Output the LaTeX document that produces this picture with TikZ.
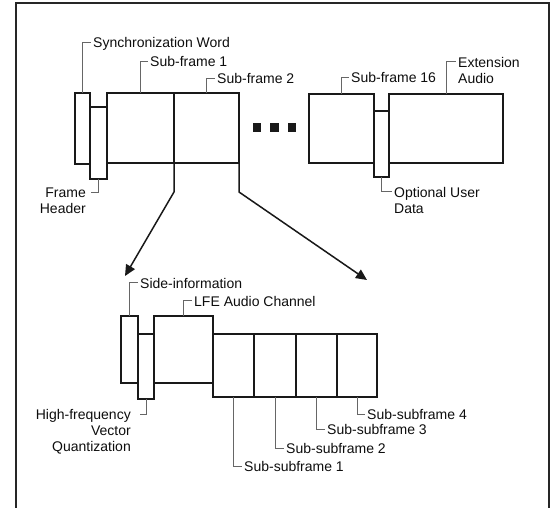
\documentclass[tikz,border=0pt]{standalone}
\usepackage{fontspec}
\setmainfont{Liberation Sans}
\usetikzlibrary{arrows.meta}
\begin{document}
\begin{tikzpicture}[x=1pt,y=-1pt,
  box/.style={draw=black!90, line width=1.6pt, inner sep=0pt, outer sep=0pt, anchor=north west, fill=white},
  lead/.style={draw=black!60, line width=1pt},
  lbl/.style={font=\fontsize{14}{16}\selectfont, text=black!95, inner xsep=2pt, inner ysep=0pt, text height=10pt, text depth=0pt, anchor=west},
  mlbl/.style={font=\fontsize{14}{16}\selectfont, text=black!95, inner xsep=2pt, inner ysep=0pt},
  arr/.style={draw=black!90, line width=1.5pt, -{Triangle[length=11pt,width=10pt]}},
  dot/.style={fill=black!90, minimum size=8.5pt, inner sep=0pt, outer sep=0pt}
]
\useasboundingbox (0,0) rectangle (555,508);
\draw[line width=2.5pt, black!85] (16,508) -- (16,3) -- (549,3) -- (549,508);

% top frame
\node[box, minimum width=15pt, minimum height=71pt] (sync) at (75,93) {};
\node[box, minimum width=17pt, minimum height=72pt] (fh) at (90,107) {};
\node[box, minimum width=67pt, minimum height=70pt] (sf1) at (107,93) {};
\node[box, minimum width=65pt, minimum height=70pt] (sf2) at (174,93) {};
\node[box, minimum width=65pt, minimum height=69pt] (sf16) at (309,94) {};
\node[box, minimum width=114pt, minimum height=69pt] (ext) at (389,94) {};
\node[box, minimum width=15pt, minimum height=66pt] (oud) at (374,111) {};

\node[dot] (d1) at (257,127.5) {};
\node[dot] (d2) at (274.5,127.5) {};
\node[dot] (d3) at (292,127.5) {};

% bottom frame
\node[box, minimum width=17pt, minimum height=67pt] (side) at (121,316) {};
\node[box, minimum width=16pt, minimum height=65pt] (hfvq) at (138,334) {};
\node[box, minimum width=59pt, minimum height=67pt] (lfe) at (154,316) {};
\node[box, minimum width=41pt, minimum height=63pt] (ss1) at (213,334) {};
\node[box, minimum width=42pt, minimum height=63pt] (ss2) at (254,334) {};
\node[box, minimum width=41pt, minimum height=63pt] (ss3) at (296,334) {};
\node[box, minimum width=40pt, minimum height=63pt] (ss4) at (337,334) {};

% labels top
\node[lbl] (syncl) at (91,43) {Synchronization Word};
\node[lbl] (sf1l) at (148,62) {Sub-frame 1};
\node[lbl] (sf2l) at (215,79) {Sub-frame 2};
\node[lbl] (sf16l) at (349,78) {Sub-frame 16};
\node[mlbl, anchor=north west, align=left] (extl) at (456,57) {Extension\\Audio};
\node[mlbl, anchor=north west, align=left] (oudl) at (392,187) {Optional User\\Data};
\node[mlbl, anchor=north east, align=right] (fhl) at (88,188) {Frame\\Header};

\draw[lead] (sync.north) |- (syncl.west);
\draw[lead] (sf1.north) |- (sf1l.west);
\draw[lead] (sf2.north) |- (sf2l.west);
\draw[lead] (sf16.north) |- (sf16l.west);
\draw[lead] (ext.north) |- ([yshift=-5pt]extl.north west);
\draw[lead] (oud.south) |- ([yshift=-5pt]oudl.north west);
\draw[lead] (fh.south) |- ([xshift=3pt,yshift=-5pt]fhl.north east);

% labels bottom
\node[lbl] (sidel) at (138,283) {Side-information};
\node[lbl] (lfel) at (192,301) {LFE Audio Channel};
\node[mlbl, anchor=north east, align=right] (hfl) at (133,409) {High-frequency\\Vector\\Quantization};
\node[lbl] (ss1l) at (242,466) {Sub-subframe 1};
\node[lbl] (ss2l) at (284,448) {Sub-subframe 2};
\node[lbl] (ss3l) at (325,429) {Sub-subframe 3};
\node[lbl] (ss4l) at (365,414) {Sub-subframe 4};

\draw[lead] (side.north) |- (sidel.west);
\draw[lead] (lfe.north) |- (lfel.west);
\draw[lead] (hfvq.south) |- ([xshift=7pt,yshift=-5pt]hfl.north east);
\draw[lead] (ss1.south) |- (ss1l.west);
\draw[lead] (ss2.south) |- (ss2l.west);
\draw[lead] (ss3.south) |- (ss3l.west);
\draw[lead] (ss4.south) |- (ss4l.west);

% arrows
\coordinate (arrL) at (125,276);
\coordinate (arrR) at (367,280);
\draw[arr] (sf2.south west) -- ++(0,29) -- (arrL);
\draw[arr] (sf2.south east) -- ++(0,29) -- (arrR);
\end{tikzpicture}
\end{document}
